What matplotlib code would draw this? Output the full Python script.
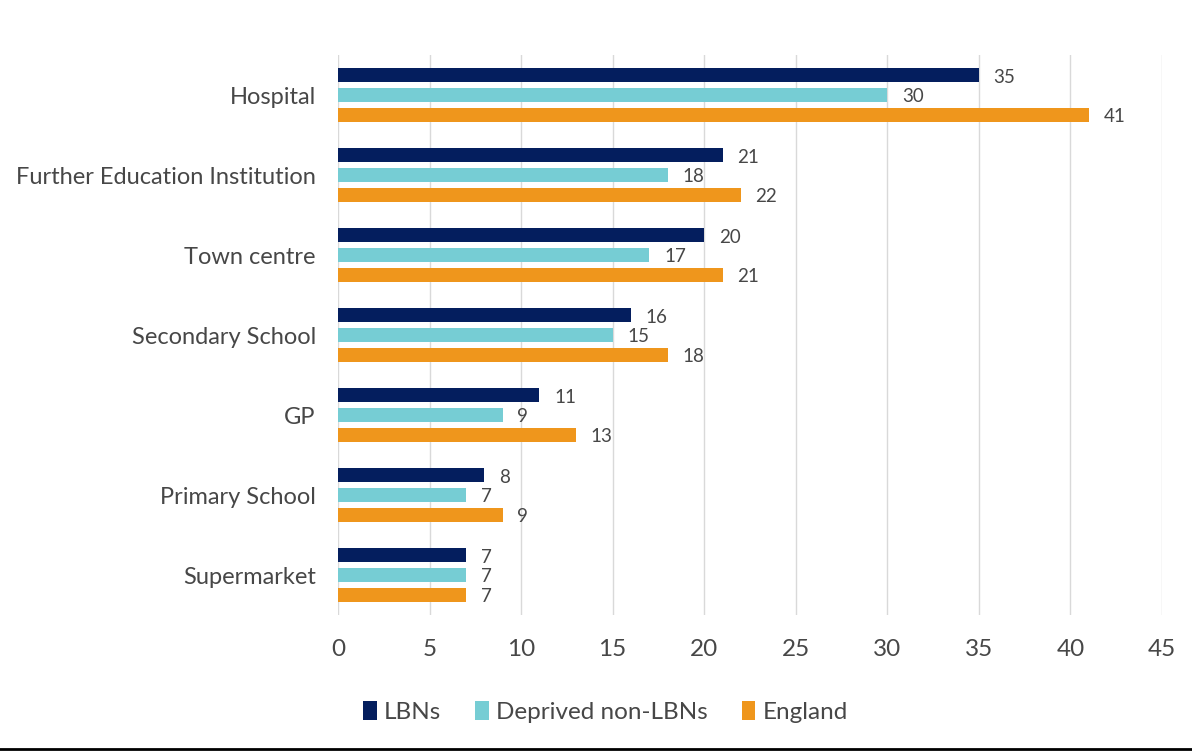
import matplotlib
matplotlib.use("Agg")
import matplotlib.pyplot as plt
import numpy as np
from matplotlib.lines import Line2D

categories = ["Hospital", "Further Education Institution", "Town centre",
              "Secondary School", "GP", "Primary School", "Supermarket"]
lbns = [35, 21, 20, 16, 11, 8, 7]
deprived = [30, 18, 17, 15, 9, 7, 7]
england = [41, 22, 21, 18, 13, 9, 7]
series_names = ["LBNs", "Deprived non-LBNs", "England"]
colors = ["#041E5E", "#76CDD4", "#EF961C"]
xticks = [0, 5, 10, 15, 20, 25, 30, 35, 40, 45]

plt.rcParams['font.family'] = ['Lato', 'DejaVu Sans']
text_color = "#474747"

fig = plt.figure(figsize=(11.92, 7.54), dpi=100)
ax = fig.add_axes([338/1192, 1-615/754, (1162-338)/1192, (615-55)/754])

y = np.arange(len(categories))
step = 0.244
h = 0.175
for i, (vals, c, name) in enumerate(zip([lbns, deprived, england], colors, series_names)):
    pos = y + (i - 1) * step
    ax.barh(pos, vals, height=h, color=c, label=name, zorder=3)
    for p, v in zip(pos, vals):
        ax.text(v + 0.8, p + 0.02, str(v), va='center', ha='left', fontsize=13.5,
                color=text_color)

ax.set_ylim(len(categories) - 0.5, -0.5)
ax.set_xlim(0, 45)
ax.set_xticks(xticks)
ax.set_xticklabels([str(t) for t in xticks], fontsize=17.5, color=text_color)
ax.set_yticks(y)
ax.set_yticklabels(categories, fontsize=17, color=text_color)
ax.tick_params(axis='both', length=0)
ax.tick_params(axis='x', pad=17)
ax.tick_params(axis='y', pad=16)
ax.grid(axis='x', color='#D9D9D9', linewidth=1, zorder=0)
for s in ax.spines.values():
    s.set_visible(False)

leg = fig.legend(loc='center', bbox_to_anchor=(0.508, 1-712/754), ncol=3,
                 frameon=False, handlelength=0.55, handleheight=0.85,
                 handletextpad=0.3, columnspacing=1.4, labelcolor=text_color,
                 prop={'family': ['Lato', 'DejaVu Sans'], 'size': 17.5})

fig.add_artist(Line2D([0, 1], [1-749/754, 1-749/754], color='black', lw=2,
                      transform=fig.transFigure))

fig.savefig("out.png", dpi=100)
